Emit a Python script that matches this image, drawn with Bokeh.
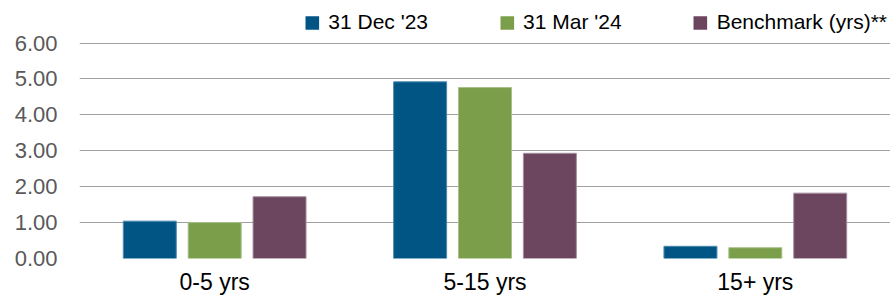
from bokeh.plotting import figure
from bokeh.models import (ColumnDataSource, FactorRange, Legend, LegendItem,
                          FixedTicker, NumeralTickFormatter, Range1d)
from bokeh.transform import dodge
from bokeh.embed import file_html
from bokeh.resources import INLINE

categories = ["0-5 yrs", "5-15 yrs", "15+ yrs"]
dec23 = [1.04, 4.92, 0.34]
mar24 = [1.00, 4.76, 0.30]
benchmark = [1.72, 2.93, 1.82]
series_names = ["31 Dec '23", "31 Mar '24", "Benchmark (yrs)**"]
y_ticks = [0, 1, 2, 3, 4, 5, 6]

bar_colors = ["#005585", "#7a9e4a", "#6c455e"]
edge_colors = ["#4d8ab0", "#a7c187", "#a590a0"]

FONT = "Liberation Sans"

src = ColumnDataSource(dict(cat=categories, dec=dec23, mar=mar24, bm=benchmark))

# y range extends above 6 to leave room for the legend inside the frame
p = figure(x_range=FactorRange(*categories), y_range=Range1d(0, 6.99),
           width=890, height=298, output_backend="svg", toolbar_location=None,
           min_border_left=79, min_border_right=0, min_border_top=7,
           min_border_bottom=40, outline_line_color=None)

offsets = [-0.24, 0.0, 0.24]
cols = ["dec", "mar", "bm"]
items = []
for name, off, col, fc, lc in zip(series_names, offsets, cols, bar_colors, edge_colors):
    x = dodge("cat", off, range=p.x_range)
    r = p.vbar(x=x, top=col, bottom=0, width=0.196, source=src,
               fill_color=fc, line_color=None)
    p.vbar(x=x, top=col, bottom=0, width=0.196, source=src,
           fill_color=None, line_color=lc, line_width=1)
    items.append(LegendItem(label=name, renderers=[r]))

legend = Legend(items=items, orientation="horizontal", location="top_right",
                glyph_width=17, glyph_height=17, label_standoff=8, spacing=70,
                padding=0, margin=3, border_line_color=None,
                background_fill_alpha=0, label_text_font=FONT,
                label_text_font_size="21px", label_text_color="black")
p.add_layout(legend, "center")

p.xgrid.visible = False
p.ygrid.ticker = FixedTicker(ticks=y_ticks)
p.ygrid.grid_line_color = "#a0a0a0"
p.ygrid.grid_line_width = 1

p.yaxis.ticker = FixedTicker(ticks=y_ticks)
p.yaxis.formatter = NumeralTickFormatter(format="0.00")
p.yaxis.axis_line_color = None
p.yaxis.major_tick_line_color = None
p.yaxis.minor_tick_line_color = None
p.yaxis.major_tick_out = 0
p.yaxis.major_tick_in = 0
p.yaxis.minor_tick_out = 0
p.yaxis.major_label_standoff = 22
p.yaxis.major_label_text_font = FONT
p.yaxis.major_label_text_font_size = "22px"
p.yaxis.major_label_text_color = "#595959"

p.xaxis.axis_line_color = None
p.xaxis.major_tick_line_color = None
p.xaxis.minor_tick_line_color = None
p.xaxis.major_tick_out = 0
p.xaxis.major_tick_in = 0
p.xaxis.minor_tick_out = 0
p.xaxis.major_label_standoff = 10
p.xaxis.major_label_text_font = FONT
p.xaxis.major_label_text_font_size = "23px"
p.xaxis.major_label_text_color = "black"

open("out.html", "w").write(file_html(p, INLINE))
